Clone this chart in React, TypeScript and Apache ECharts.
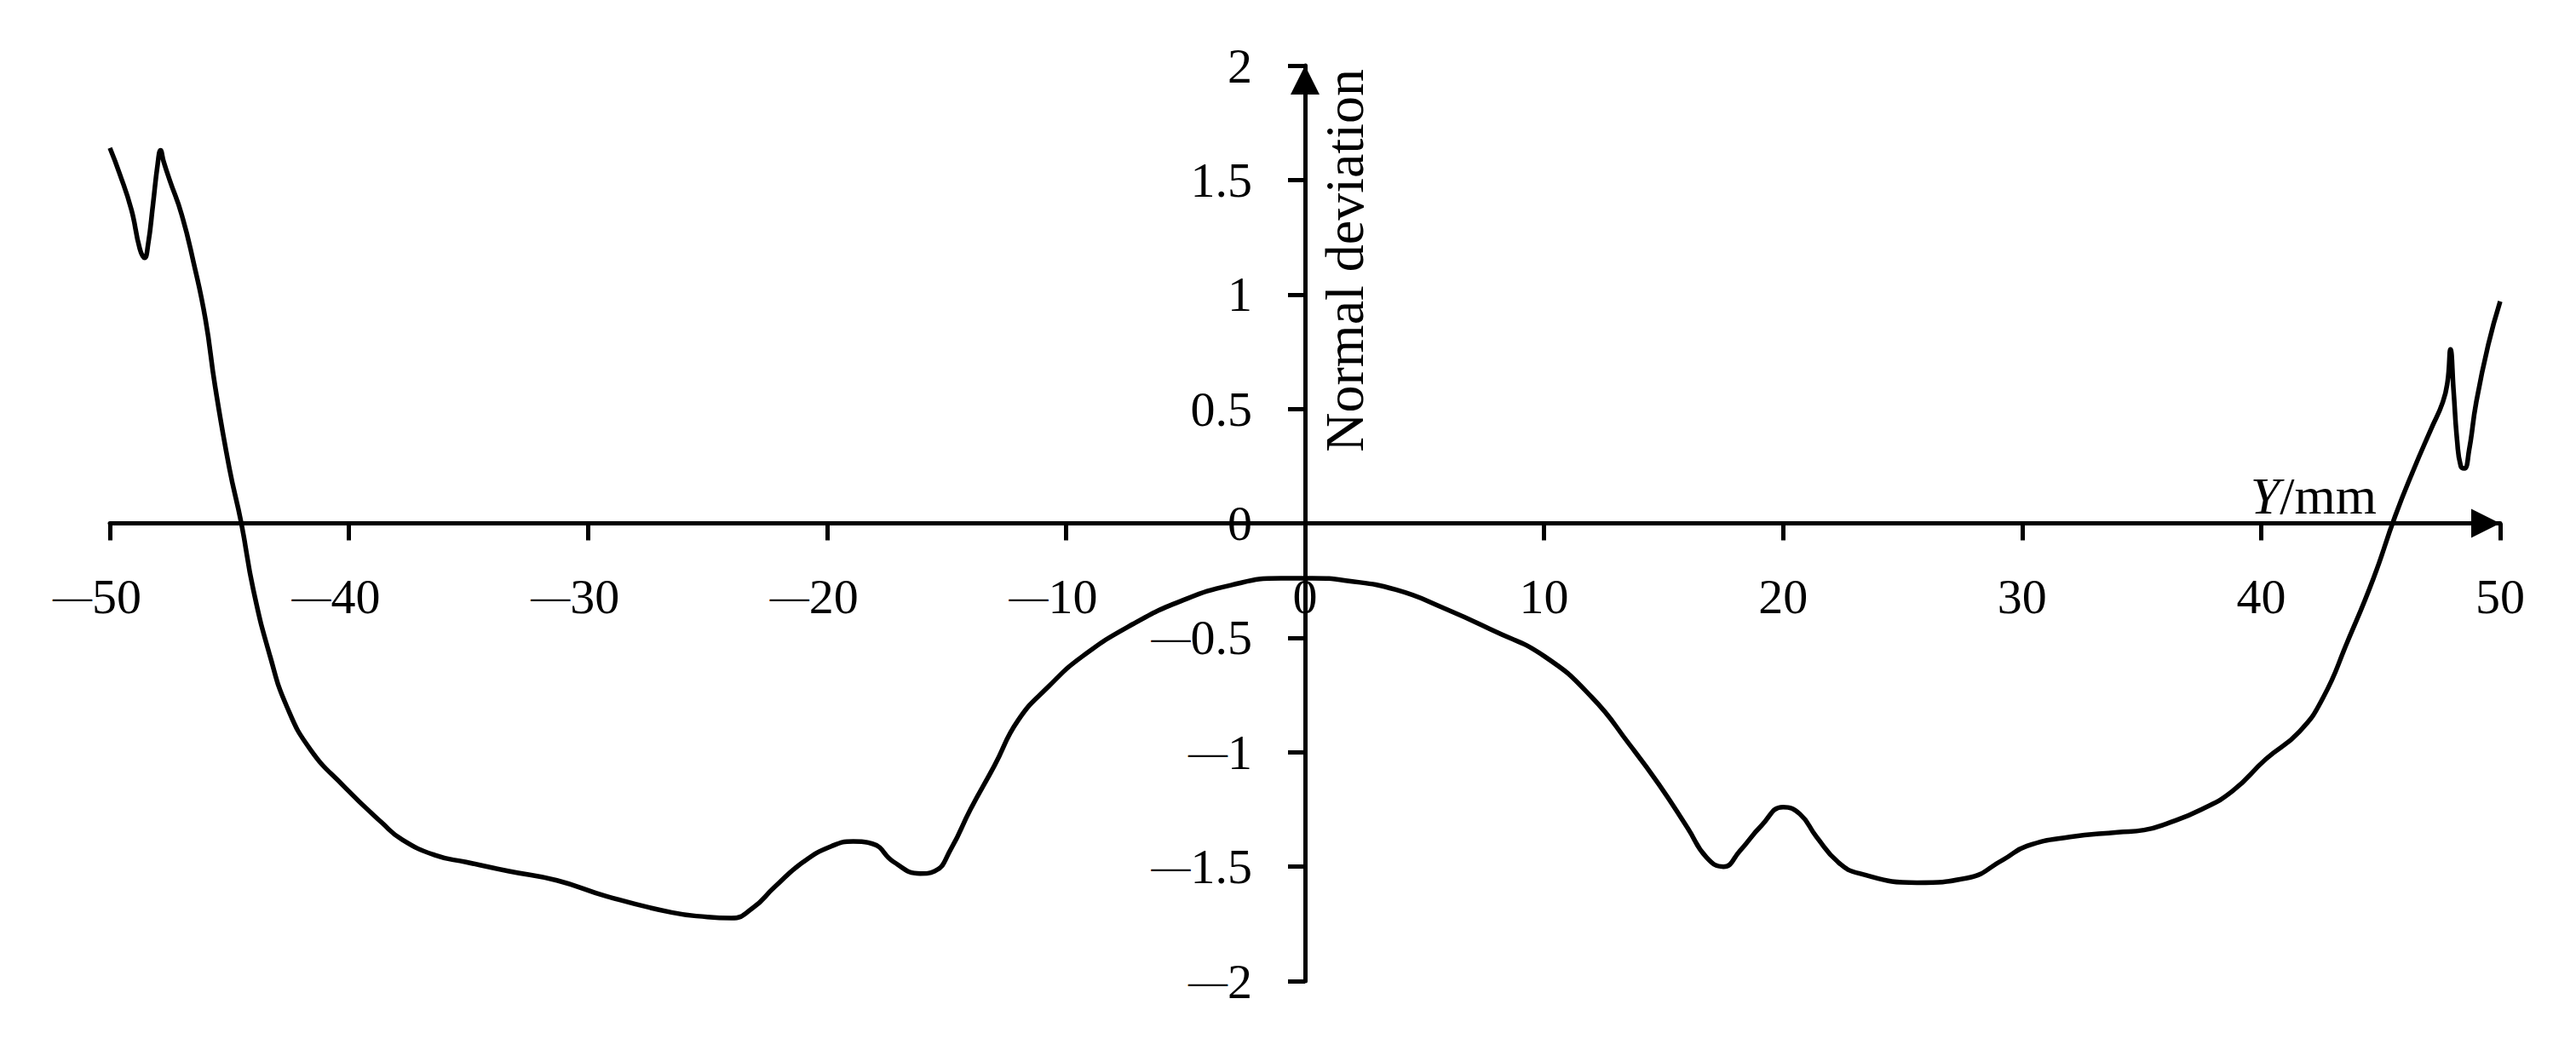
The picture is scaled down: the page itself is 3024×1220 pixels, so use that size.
import React, { useEffect, useRef } from "react";
import * as echarts from "echarts";

// Y position (mm)
const yPositions: number[] = [
  -50, -49.6, -49.1, -48.75, -48.55, -48.4, -48.2, -48.0, -47.88, -47.75, -47.5, -47.0, -46.5, -46.0, -45.6, -45.0,
  -44.5, -44.0, -43.3, -42.6, -41.6, -40.2, -38.6, -37.8, -36.4, -35.1, -33.3, -31.3, -29.2, -26.5, -25.0, -24.0,
  -23.1, -22.2, -21.0, -19.8, -18.9, -18.1, -17.2, -16.1, -15.5, -14.8, -14.0, -13.0, -12.0, -10.7, -9.3,
  -7.2, -5.2, -3.1, -1.0, 0.3, 1.7, 3.8, 5.8, 7.9, 10.0, 12.0, 13.6, 14.8, 16.0, 16.8, 17.5, 18.2, 19.1,
  20.0, 20.7, 21.4, 22.3, 23.2, 25.6, 27.7, 29.2, 30.2, 32.0, 34.0, 35.1, 36.1, 37.5, 38.8, 40.2,
  41.6, 42.6, 43.6, 44.7, 45.6, 46.4, 47.1, 47.6, 47.8, 47.92, 48.05, 48.2, 48.35, 48.5, 48.7, 49.0, 49.5, 50,
];

// Normal deviation
const deviations: number[] = [
  1.64, 1.53, 1.37, 1.2, 1.16, 1.22, 1.39, 1.57, 1.63, 1.58, 1.5, 1.35, 1.14, 0.89, 0.6, 0.24,
  0.0, -0.29, -0.58, -0.8, -0.99, -1.15, -1.31, -1.38, -1.45, -1.48, -1.52, -1.56, -1.63, -1.7, -1.72, -1.725,
  -1.68, -1.59, -1.48, -1.41, -1.39, -1.4, -1.48, -1.53, -1.52, -1.42, -1.25, -1.06, -0.86, -0.71, -0.58,
  -0.44, -0.34, -0.27, -0.24, -0.24, -0.25, -0.29, -0.37, -0.47, -0.58, -0.76, -0.97, -1.14, -1.33, -1.46, -1.5, -1.43, -1.32,
  -1.24, -1.27, -1.37, -1.48, -1.53, -1.57, -1.55, -1.47, -1.41, -1.37, -1.35, -1.34, -1.31, -1.25, -1.17, -1.03,
  -0.91, -0.76, -0.52, -0.24, 0.03, 0.24, 0.41, 0.53, 0.62, 0.76, 0.58, 0.36, 0.25, 0.24, 0.32, 0.53, 0.78, 0.97,
];

const FONT = "Liberation Serif";
const LABEL_SIZE = 58;
const NAME_SIZE = 64;

const xFmt = (v: number) => (v < 0 ? "{m|\u2014}{nx|" + Math.abs(v) + "}" : "{p|" + v + "}");
const yFmt = (v: number) => (v < 0 ? "{m|\u2014}{p|" + Math.abs(v) + "}" : "{p|" + v + "}");

const GRID = { left: 129, right: 89, top: 77, bottom: 68 };
const W = 3024;
const H = 1220;

export default function App() {
  const ref = useRef<HTMLDivElement>(null);
  useEffect(() => {
    if (!ref.current) return;
    const chart = echarts.init(ref.current, undefined, { renderer: "svg" });
    const axisLineStyle = { color: "#000", width: 5 };
    const gridW = W - GRID.left - GRID.right;
    const gridH = H - GRID.top - GRID.bottom;
    const xMin = -50, xMax = 50, yMin = -2, yMax = 2;
    // axes drawn through the origin
    const xOffset = -gridH * (0 - yMin) / (yMax - yMin);
    const yOffset = -gridW * (0 - xMin) / (xMax - xMin);
    const rich = {
      m: { fontFamily: FONT, fontSize: 46, color: "#000", verticalAlign: "middle" },
      p: { fontFamily: FONT, fontSize: LABEL_SIZE, color: "#000", verticalAlign: "middle" },
      nx: { fontFamily: FONT, fontSize: LABEL_SIZE, color: "#000", verticalAlign: "middle", padding: [0, 30, 0, 0] },
    };
    chart.setOption({
      animation: false,
      backgroundColor: "#fff",
      grid: { ...GRID, containLabel: false, outerBoundsMode: "none" },
      xAxis: {
        type: "value",
        min: xMin,
        max: xMax,
        interval: 10,
        position: "bottom",
        offset: xOffset,
        name: "{i|Y}/mm",
        nameLocation: "end",
        nameGap: -145,
        nameMoveOverlap: false,
        nameTextStyle: {
          fontFamily: FONT,
          fontSize: NAME_SIZE - 2,
          color: "#000",
          align: "right",
          verticalAlign: "bottom",
          padding: [0, 0, 2, 0],
          rich: { i: { fontStyle: "italic", fontFamily: FONT, fontSize: NAME_SIZE - 2, color: "#000" } },
        },
        axisLine: {
          onZero: false,
          lineStyle: axisLineStyle,
          symbol: ["none", "triangle"],
          symbolSize: [34, 34],
          symbolOffset: [0, -17],
        },
        axisTick: { show: true, inside: false, length: 20, lineStyle: { color: "#000", width: 5 } },
        axisLabel: {
          formatter: xFmt,
          rich,
          fontFamily: FONT,
          fontSize: LABEL_SIZE,
          color: "#000",
          margin: 57,
          showMinLabel: true,
          showMaxLabel: true,
          hideOverlap: false,
        },
        splitLine: { show: false },
      },
      yAxis: {
        type: "value",
        min: yMin,
        max: yMax,
        interval: 0.5,
        position: "left",
        offset: yOffset,
        name: "Normal deviation",
        nameLocation: "end",
        nameRotate: 90,
        nameGap: -4,
        nameMoveOverlap: false,
        nameTextStyle: {
          fontFamily: FONT,
          fontSize: NAME_SIZE,
          color: "#000",
          align: "right",
          verticalAlign: "top",
          padding: [14, 0, 0, 0],
        },
        axisLine: {
          onZero: false,
          lineStyle: axisLineStyle,
          symbol: ["none", "triangle"],
          symbolSize: [34, 34],
          symbolOffset: [0, -17],
        },
        axisTick: { show: true, inside: false, length: 20, lineStyle: { color: "#000", width: 5 } },
        axisLabel: {
          formatter: yFmt,
          rich,
          fontFamily: FONT,
          fontSize: LABEL_SIZE,
          color: "#000",
          margin: 62,
          showMinLabel: true,
          showMaxLabel: true,
          hideOverlap: false,
        },
        splitLine: { show: false },
      },
      series: [
        {
          type: "line",
          data: yPositions.map((x, i) => [x, deviations[i]]),
          smooth: 0.5,
          showSymbol: false,
          symbol: "none",
          lineStyle: { color: "#000", width: 5.5 },
          clip: false,
        },
      ],
    });
    return () => chart.dispose();
  }, []);
  return (
    <div
      ref={ref}
      style={{ position: "fixed", left: 0, top: 0, width: W, height: H, background: "#fff" }}
    />
  );
}
